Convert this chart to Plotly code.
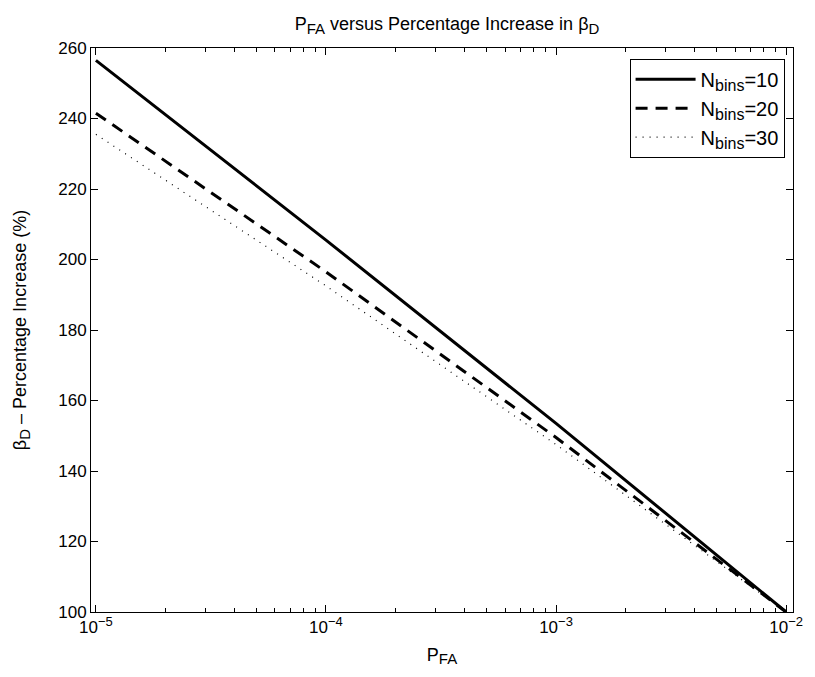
import plotly.graph_objects as go

# Data
p_fa = [1e-5, 1e-4, 1e-3, 1e-2]
nbins10 = [256.5, 205.5, 153.5, 100.0]
nbins20 = [241.5, 196.5, 149.5, 100.0]
nbins30 = [235.5, 192.5, 147.5, 100.0]
series_labels = ["10", "20", "30"]
x_tickvals = [1e-5, 1e-4, 1e-3, 1e-2]
x_exponents = ["−5", "−4", "−3", "−2"]
y_tickvals = [100, 120, 140, 160, 180, 200, 220, 240, 260]

FONT = "Liberation Sans, Arial, Helvetica, sans-serif"


def sub(t, size):
    return f"<sub><span style='font-size:{size}px'>{t}</span></sub>"


def sup(t, size):
    return f"<sup><span style='font-size:{size}px'>{t}</span></sup>"


x_ticktext = ["10" + sup(e, 13) for e in x_exponents]
series_names = ["N" + sub("bins", 16) + "=" + s for s in series_labels]

fig = go.Figure()
fig.add_trace(go.Scatter(x=p_fa, y=nbins10, mode="lines", name=series_names[0],
                         line=dict(color="black", width=3, dash="solid")))
fig.add_trace(go.Scatter(x=p_fa, y=nbins20, mode="lines", name=series_names[1],
                         line=dict(color="black", width=3, dash="12px,8px")))
fig.add_trace(go.Scatter(x=p_fa, y=nbins30, mode="lines", name=series_names[2],
                         line=dict(color="black", width=1.2, dash="1px,6px")))

axis_common = dict(
    showline=True, linecolor="black", linewidth=1, mirror="ticks",
    ticks="inside", ticklen=7, tickcolor="black", tickwidth=1,
    showgrid=False, zeroline=False,
    tickfont=dict(family=FONT, size=17, color="black"),
)

W, H = 815, 677
L, T, R, B = 91, 48, 12, 65
fig.update_layout(
    width=W, height=H,
    paper_bgcolor="white", plot_bgcolor="white",
    margin=dict(l=L, r=R, t=T, b=B),
    font=dict(family=FONT, color="black"),
    title=dict(text="P" + sub("FA", 15) + " versus Percentage Increase in β" + sub("D", 15),
               x=(L + (W - L - R) / 2) / W, xanchor="center",
               y=1 - 24 / H, yanchor="middle",
               font=dict(family=FONT, size=18, color="black")),
    showlegend=True,
    legend=dict(x=0.988, xanchor="right", y=0.981, yanchor="top",
                bordercolor="black", borderwidth=1, bgcolor="white",
                font=dict(family=FONT, size=20, color="black"),
                itemwidth=60),
)

fig.update_xaxes(
    type="log", range=[-5.0214, -1.970],
    tickvals=x_tickvals, ticktext=x_ticktext,
    minor=dict(ticks="inside", ticklen=4, tickcolor="black", dtick="D1", showgrid=False),
    title=dict(text="P" + sub("FA", 15), font=dict(family=FONT, size=18, color="black"), standoff=11),
    **axis_common,
)
fig.update_yaxes(
    range=[100, 260], tickvals=y_tickvals,
    title=dict(text="β" + sub("D", 15) + " – Percentage Increase (%)",
               font=dict(family=FONT, size=18, color="black"), standoff=26),
    **axis_common,
)

# remove the default page margin so the figure sits at the window's top-left corner
fig.write_html("out.html", config={"displayModeBar": False},
               post_script="document.body.style.margin='0';")
